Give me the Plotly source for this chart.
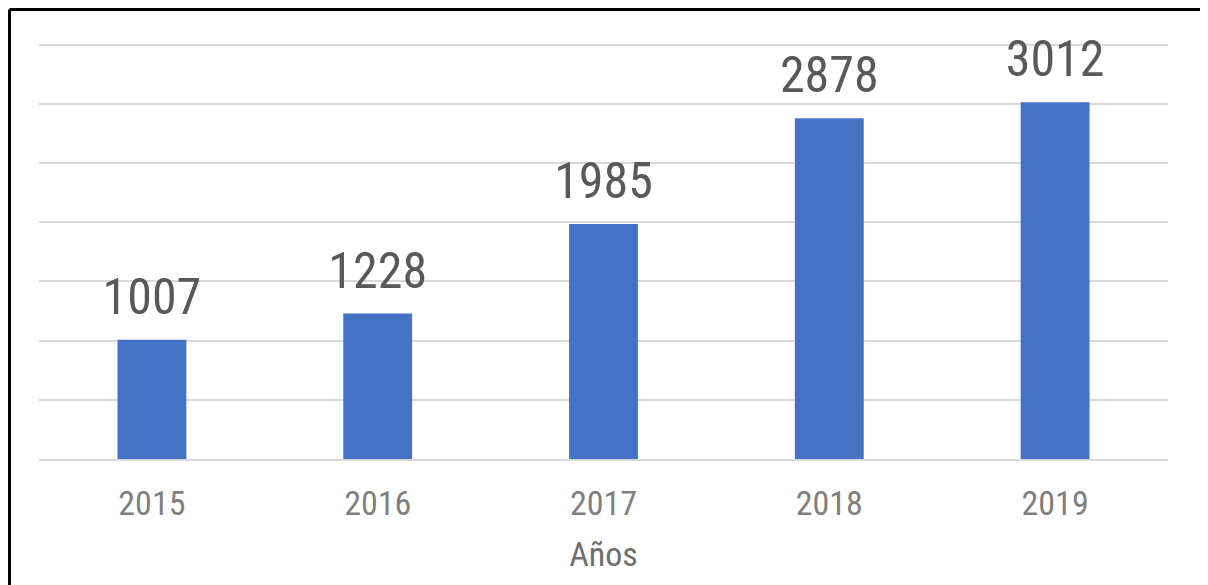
import plotly.graph_objects as go

years = ["2015", "2016", "2017", "2018", "2019"]
values = [1007, 1228, 1985, 2878, 3012]
y_ticks = [0, 500, 1000, 1500, 2000, 2500, 3000, 3500]

FONT = "Liberation Sans Narrow, Roboto Condensed, Arial Narrow, Roboto, sans-serif"

fig = go.Figure()
fig.add_trace(go.Bar(x=years, y=values, marker=dict(color="#4472c4", line=dict(width=0)),
                     hoverinfo="x+y"))
# value labels above the bars (invisible markers push the text up)
fig.add_trace(go.Scatter(x=years, y=values, mode="markers+text", text=[str(v) for v in values],
                         textposition="top center", cliponaxis=False, hoverinfo="skip",
                         marker=dict(size=20, color="rgba(0,0,0,0)"),
                         textfont=dict(family=FONT, size=50, color="#595959")))

W, H = 1200, 577
L, R, T, B = 31, 40, 33, 126
PW, PH = W - L - R, H - T - B

fig.update_layout(
    width=W, height=H,
    margin=dict(l=L, r=R, t=T, b=B),
    paper_bgcolor="white", plot_bgcolor="white",
    bargap=0.695, showlegend=False,
    font=dict(family=FONT),
    xaxis=dict(type="category"),
)
fig.update_xaxes(
    automargin=False,
    tickfont=dict(family=FONT, size=34, color="#7f7f7f"),
    ticks="outside", ticklen=13, tickcolor="rgba(0,0,0,0)",
    showline=True, linecolor="#d9d9d9", linewidth=2,
    title=dict(text="Años", font=dict(family=FONT, size=34, color="#6f6f6f"), standoff=20),
)
fig.update_yaxes(
    range=[0, 3530], tickvals=y_ticks, showticklabels=False, automargin=False,
    showgrid=True, gridcolor="#d9d9d9", gridwidth=2, zeroline=False,
)
# outer frame (top and left edges)
fig.add_shape(type="line", xref="paper", yref="paper",
              x0=(1.5 - L) / PW, x1=(W + 10 - L) / PW, y0=1 + (T - 1.5) / PH, y1=1 + (T - 1.5) / PH,
              line=dict(color="black", width=3))
fig.add_shape(type="line", xref="paper", yref="paper",
              x0=(1.5 - L) / PW, x1=(1.5 - L) / PW, y0=1 + (T - 1.5) / PH, y1=-(B + 10) / PH,
              line=dict(color="black", width=3))

fig.write_html("out.html")
